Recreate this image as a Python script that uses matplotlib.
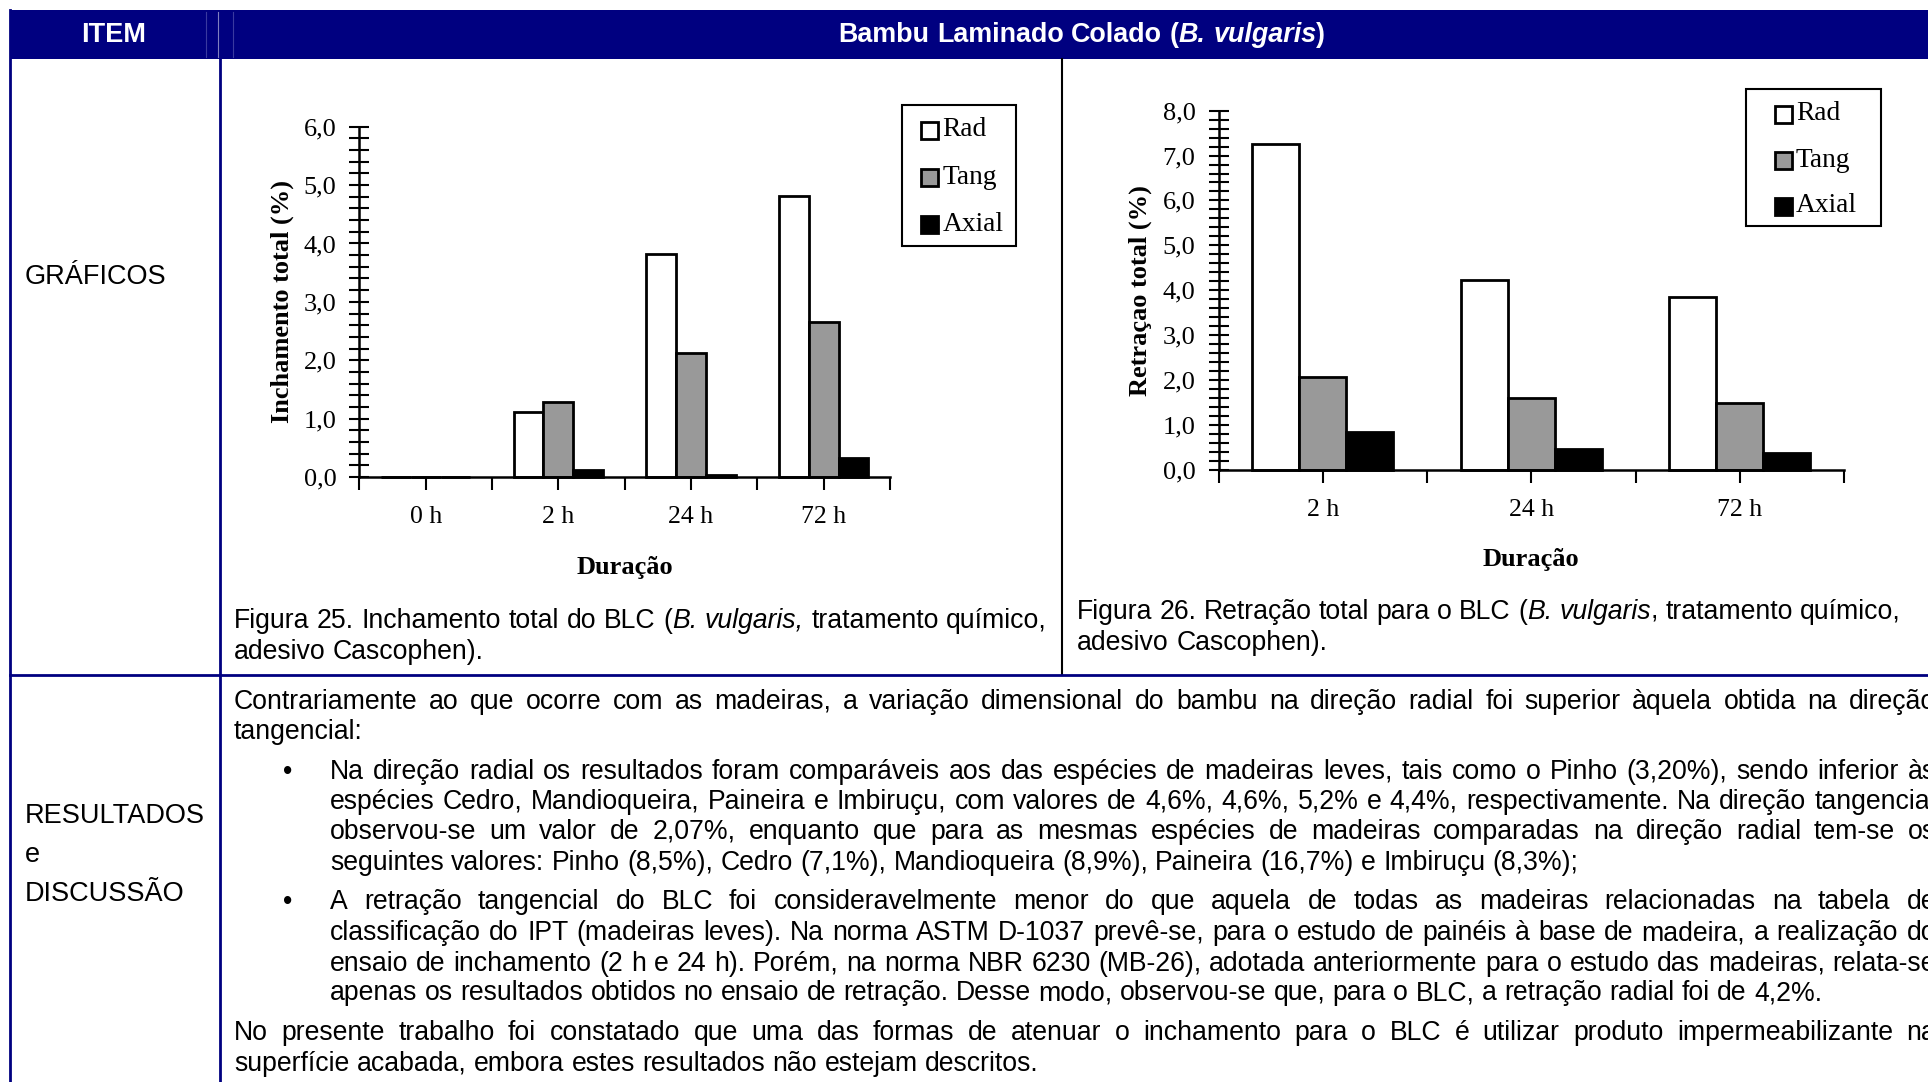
import numpy as np
import matplotlib
matplotlib.use("Agg")
import matplotlib.pyplot as plt
from matplotlib.patches import Rectangle
from matplotlib.ticker import MultipleLocator, FuncFormatter

W, H = 1928, 1082
NAVY = '#000080'
SANS = 'Liberation Sans'
SERIF = 'Liberation Serif'
FS = 19.2     # corpo do texto
CFS = 19      # textos dos graficos

# Figura 25 - inchamento total (%)
dur_inch = ['0 h', '2 h', '24 h', '72 h']
rad_inch = [0.0, 1.12, 3.82, 4.81]
tang_inch = [0.0, 1.29, 2.12, 2.65]
axial_inch = [0.0, 0.12, 0.03, 0.33]

# Figura 26 - retracao total (%)
dur_retr = ['2 h', '24 h', '72 h']
rad_retr = [7.25, 4.23, 3.84]
tang_retr = [2.06, 1.60, 1.49]
axial_retr = [0.85, 0.46, 0.38]

series_names = ['Rad', 'Tang', 'Axial']
series_colors = ['white', '#999999', 'black']

fig = plt.figure(figsize=(W / 100, H / 100), dpi=100)
bg = fig.add_axes([0, 0, 1, 1])
bg.set_xlim(0, W)
bg.set_ylim(H, 0)
bg.axis('off')
r = fig.canvas.get_renderer()


def px_axes(x0, y0, x1, y1):
    a = fig.add_axes([x0 / W, 1 - y1 / H, (x1 - x0) / W, (y1 - y0) / H])
    a.patch.set_alpha(0)
    return a


def width(s, **kw):
    t = bg.text(0, 0, s, **kw)
    w = t.get_window_extent(renderer=r).width
    t.remove()
    return w


def parse(line):
    words, ital = [], False
    for tok in line.split(' '):
        segs = []
        for i, p in enumerate(tok.split('*')):
            if i > 0:
                ital = not ital
            if p:
                segs.append((p, ital))
        words.append(segs)
    return words


def draw_line(line, x0, y, x1=None, size=FS, family=SANS, color='black',
              weight='normal', align='left'):
    words = parse(line)
    kw = dict(fontsize=size, family=family, color=color, weight=weight)
    seg_w = [[width(s, style='italic' if it else 'normal', **kw) for s, it in wd]
             for wd in words]
    ws = [sum(v) for v in seg_w]
    sp = width('a a', **kw) - width('aa', **kw)
    if x1 is not None and len(words) > 1:
        gap = (x1 - x0 - sum(ws)) / (len(words) - 1)
    else:
        gap = sp
    total = sum(ws) + gap * (len(words) - 1)
    x = x0 - total / 2 if align == 'center' else x0
    for wd, sw in zip(words, seg_w):
        for (s, it), w in zip(wd, sw):
            bg.text(x, y, s, va='center', ha='left',
                    style='italic' if it else 'normal', **kw)
            x += w
        x += gap


# ---- moldura da tabela ----
bg.add_patch(Rectangle((10, 10), W - 10, 49, color=NAVY, lw=0))
for xx, c in [(205.7, '#3a3aa0'), (218, '#8080c0'), (233, '#3a3aa0')]:
    bg.plot([xx, xx], [12, 57], color=c, lw=0.8)
bg.plot([10, 10], [10, H], color=NAVY, lw=2)
bg.plot([220, 220], [59, H], color=NAVY, lw=2)
bg.plot([1061.7, 1061.7], [59, 675], color='black', lw=1.5)
bg.plot([10, W], [675, 675], color=NAVY, lw=2)

draw_line('ITEM', 114, 35, size=19.5, color='white', weight='bold', align='center')
draw_line('Bambu Laminado Colado (*B. vulgaris*)', 1082, 35, size=19.4,
          color='white', weight='bold', align='center')

for txt, y in [('GRÁFICOS', 277), ('RESULTADOS', 816), ('e', 855), ('DISCUSSÃO', 894)]:
    bg.text(25, y, txt, fontsize=19.5, family=SANS, va='center')

# ---- legendas das figuras ----
draw_line('Figura 25. Inchamento total do BLC (*B. vulgaris,* tratamento químico,',
          234, 621, 1047)
draw_line('adesivo Cascophen).', 234, 652)
draw_line('Figura 26. Retração total para o BLC (*B. vulgaris*, tratamento químico,',
          1077, 612, 1901)
draw_line('adesivo Cascophen).', 1077, 643)

# ---- resultados e discussao ----
XR = 1936
body = [
    (234, 702, True, 'Contrariamente ao que ocorre com as madeiras, a variação dimensional do bambu na direção radial foi superior àquela obtida na direção'),
    (234, 732, False, 'tangencial:'),
    (330, 772, True, 'Na direção radial os resultados foram comparáveis aos das espécies de madeiras leves, tais como o Pinho (3,20%), sendo inferior às'),
    (330, 802, True, 'espécies Cedro, Mandioqueira, Paineira e Imbiruçu, com valores de 4,6%, 4,6%, 5,2% e 4,4%, respectivamente. Na direção tangencial'),
    (330, 832, True, 'observou-se um valor de 2,07%, enquanto que para as mesmas espécies de madeiras comparadas na direção radial tem-se os'),
    (330, 863, False, 'seguintes valores: Pinho (8,5%), Cedro (7,1%), Mandioqueira (8,9%), Paineira (16,7%) e Imbiruçu (8,3%);'),
    (330, 902, True, 'A retração tangencial do BLC foi consideravelmente menor do que aquela de todas as madeiras relacionadas na tabela de'),
    (330, 933, True, 'classificação do IPT (madeiras leves). Na norma ASTM D-1037 prevê-se, para o estudo de painéis à base de madeira, a realização do'),
    (330, 964, True, 'ensaio de inchamento (2 h e 24 h). Porém, na norma NBR 6230 (MB-26), adotada anteriormente para o estudo das madeiras, relata-se'),
    (330, 993, False, 'apenas os resultados obtidos no ensaio de retração. Desse modo, observou-se que, para o BLC, a retração radial foi de 4,2%.'),
    (234, 1033, True, 'No presente trabalho foi constatado que uma das formas de atenuar o inchamento para o BLC é utilizar produto impermeabilizante na'),
    (234, 1064, False, 'superfície acabada, embora estes resultados não estejam descritos.'),
]
for x0, y, just, txt in body:
    draw_line(txt, x0, y, XR if just else None)
for y in (772, 902):
    bg.text(288, y, '•', fontsize=FS, family=SANS, va='center', ha='center')


# ---- graficos ----
def comma(v, pos):
    return ('%.1f' % v).replace('.', ',')


def bar_chart(box, cats, vals, ymax, ylabel, ylab_x, xlab_y, leg_box, leg_x, leg_ys):
    x0, y0, x1, y1 = box
    ax = px_axes(*box)
    n = len(cats)
    x = np.arange(n)
    bw = 0.225
    for i, (v, c, nm) in enumerate(zip(vals, series_colors, series_names)):
        ax.bar(x + (i - 1) * bw, v, bw, color=c, edgecolor='black', linewidth=2,
               label=nm, clip_on=False)
    ax.set_xlim(-0.5, n - 0.5)
    ax.set_ylim(0, ymax)
    for s in ('top', 'right'):
        ax.spines[s].set_visible(False)
    for s in ('left', 'bottom'):
        ax.spines[s].set_linewidth(1.8)
    ax.yaxis.set_major_locator(MultipleLocator(1))
    ax.yaxis.set_minor_locator(MultipleLocator(0.2))
    ax.yaxis.set_major_formatter(FuncFormatter(comma))
    ax.tick_params(axis='y', which='both', direction='inout', length=15, width=1.5,
                   pad=9, labelsize=CFS)
    ax.set_xticks(x)
    ax.set_xticklabels(cats)
    ax.set_xticks(np.arange(n + 1) - 0.5, minor=True)
    ax.tick_params(axis='x', which='both', direction='out', length=9, width=1.5,
                   pad=12, labelsize=18.5)
    for lab in ax.get_xticklabels() + ax.get_yticklabels():
        lab.set_family(SERIF)
    ax.set_ylabel(ylabel, family=SERIF, weight='bold', fontsize=CFS)
    ax.yaxis.set_label_coords((ylab_x - x0) / (x1 - x0), 0.5)
    ax.set_xlabel('Duração', family=SERIF, weight='bold', fontsize=CFS)
    ax.xaxis.set_label_coords(0.5, (y1 - xlab_y) / (y1 - y0))
    lx0, ly0, lx1, ly1 = leg_box
    bg.add_patch(Rectangle((lx0, ly0), lx1 - lx0, ly1 - ly0, fill=False,
                           edgecolor='black', lw=1.5))
    for nm, c, ly in zip(series_names, series_colors, leg_ys):
        bg.add_patch(Rectangle((leg_x - 8.5, ly - 8.5), 17, 17, facecolor=c,
                               edgecolor='black', lw=2))
        bg.text(leg_x + 13, ly, nm, family=SERIF, fontsize=19.8, va='center', ha='left')
    return ax


bar_chart((359.3, 126.7, 890, 477), dur_inch,
          [rad_inch, tang_inch, axial_inch], 6, 'Inchamento total (%)',
          294, 556, (902, 104.5, 1016, 246), 929.6, (130, 177.5, 224.5))
bar_chart((1218.5, 110.7, 1844, 469.7), dur_retr,
          [rad_retr, tang_retr, axial_retr], 8, 'Retraçao total (%)',
          1152, 548, (1746, 88.5, 1881, 226), 1783, (114, 160.5, 206))

fig.savefig('out.png', dpi=100)
